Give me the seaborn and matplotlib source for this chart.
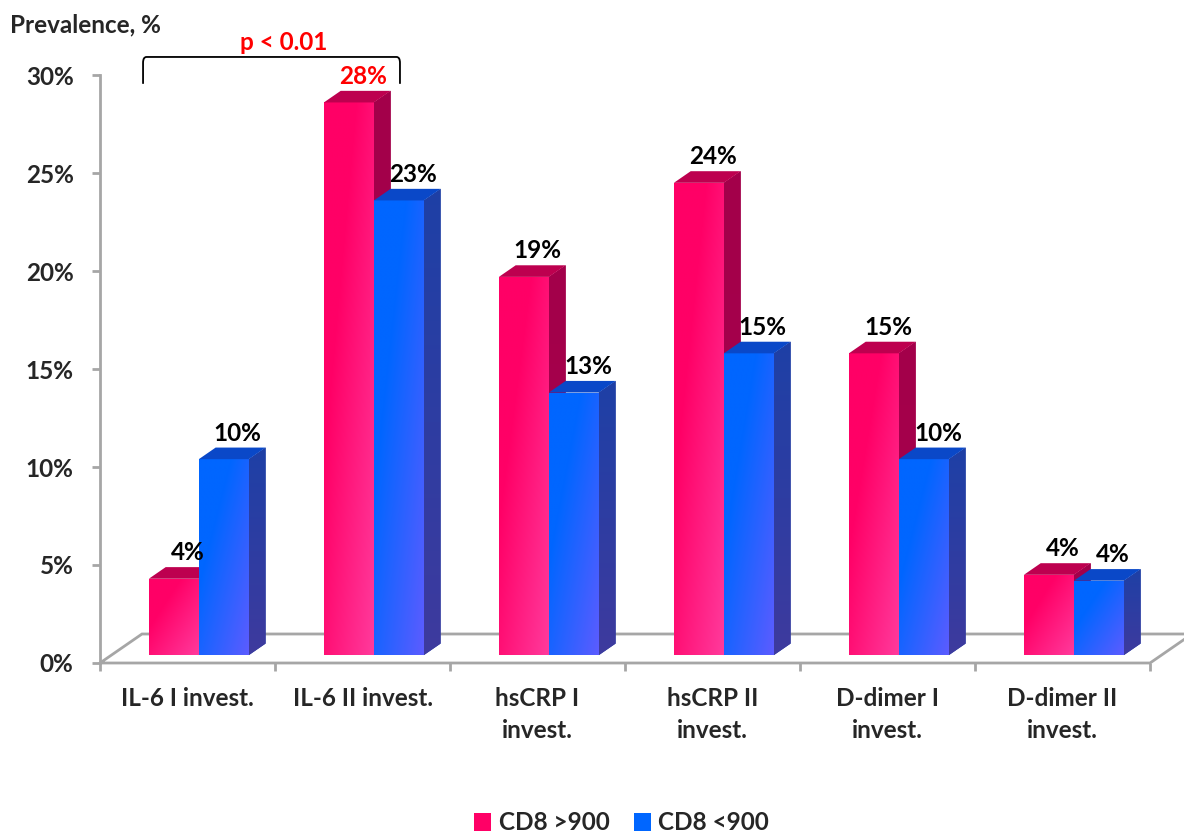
import numpy as np
import pandas as pd
import matplotlib
matplotlib.use("Agg")
import matplotlib.pyplot as plt
import seaborn as sns
from matplotlib.patches import Polygon, Patch
from matplotlib.path import Path
from matplotlib.patches import PathPatch
from matplotlib.colors import to_rgb

# ---- data ----
categories = ["IL-6 I invest.", "IL-6 II invest.", "hsCRP I\ninvest.",
              "hsCRP II\ninvest.", "D-dimer I\ninvest.", "D-dimer II\ninvest."]
groups = ["CD8 >900", "CD8 <900"]
cd8_high = [3.9, 28.2, 19.3, 24.1, 15.4, 4.1]
cd8_low = [10.0, 23.2, 13.4, 15.4, 10.0, 3.8]
y_ticks = [0, 5, 10, 15, 20, 25, 30]
highlight = (1, "CD8 >900")   # label drawn in red
p_text = "p < 0.01"

df = pd.DataFrame({
    "marker": categories * 2,
    "group": [groups[0]] * len(categories) + [groups[1]] * len(categories),
    "value": cd8_high + cd8_low,
})

sns.set_theme(style="white")
plt.rcParams["font.family"] = ["Lato", "DejaVu Sans"]
plt.rcParams["font.weight"] = "bold"

FS = 17.5
front_cols = {"CD8 >900": ("#FF0066", "#FF3A9C"), "CD8 <900": ("#0066FF", "#5C5CFF")}
side_cols = {"CD8 >900": ("#A3004A", "#A8004E"), "CD8 <900": ("#1E40A6", "#3E3A9E")}
top_cols = {"CD8 >900": "#BD004F", "CD8 <900": "#0A48C8"}

fig = plt.figure(figsize=(11.84, 8.34), dpi=100)
ax = fig.add_axes([100 / 1184, 171 / 834, 1084 / 1184, 588 / 834])

sns.barplot(data=df, x="marker", y="value", hue="group", order=categories,
            hue_order=groups, palette=[front_cols[g][0] for g in groups],
            width=0.571, dodge=True, ax=ax, legend=False, saturation=1,
            edgecolor="none", linewidth=0)

XMAX = 5.694
ax.set_xlim(-0.5, XMAX)
ax.set_ylim(0, 30)

# depth of the 3D floor, in data units
DX, DY = 0.24, 1.48
F0, F1 = 0.27, 0.67


def shade(patch, c0, c1, tfun, z):
    if isinstance(patch, Polygon):
        verts = patch.get_xy()
    else:
        verts = patch.get_patch_transform().transform(patch.get_path().vertices)
    x0, x1 = verts[:, 0].min(), verts[:, 0].max()
    y0, y1 = verts[:, 1].min(), verts[:, 1].max()
    n = 80
    U, V = np.meshgrid(np.linspace(0, 1, n), np.linspace(0, 1, n))
    t = np.clip(tfun(U, V), 0, 1)[..., None]
    rgb = np.array(to_rgb(c0)) * (1 - t) + np.array(to_rgb(c1)) * t
    im = ax.imshow(rgb, extent=(x0, x1, y0, y1), origin="lower", aspect="auto",
                   interpolation="bilinear", zorder=z)
    im.set_clip_path(patch)


def front_t(U, V):
    return np.clip((0.55 * U + 0.55 * (1 - V)) - 0.35, 0, 1) / 0.75


for gi, (g, cont) in enumerate(zip(groups, ax.containers)):
    z = 3 + gi
    for ci, bar in enumerate(cont.patches):
        x0 = bar.get_x() + F0 * DX
        w = bar.get_width()
        h = bar.get_height()
        y0 = F0 * DY
        bar.set_x(x0)
        bar.set_y(y0)
        bar.set_zorder(z)
        bar.set_facecolor(front_cols[g][0])
        shade(bar, front_cols[g][0], front_cols[g][1], front_t, z + 0.01)
        top = y0 + h
        ddx, ddy = (F1 - F0) * DX, (F1 - F0) * DY
        side = Polygon([(x0 + w, y0), (x0 + w + ddx, y0 + ddy),
                        (x0 + w + ddx, top + ddy), (x0 + w, top)],
                       closed=True, facecolor=side_cols[g][0], edgecolor="none", zorder=z)
        ax.add_patch(side)
        shade(side, side_cols[g][0], side_cols[g][1], lambda U, V: 1 - V, z + 0.01)
        lid = Polygon([(x0, top), (x0 + w, top), (x0 + w + ddx, top + ddy),
                       (x0 + ddx, top + ddy)],
                      closed=True, facecolor=top_cols[g], edgecolor="none", zorder=z + 0.02)
        ax.add_patch(lid)
        val = cd8_high[ci] if gi == 0 else cd8_low[ci]
        color = "#FF0000" if (ci, g) == highlight else "black"
        ax.annotate(f"{val:.0f}%", (x0 + w / 2 + 0.08, top + ddy),
                    xytext=(0, 5), textcoords="offset points", ha="center",
                    va="baseline", fontsize=FS, fontweight="bold", color=color,
                    zorder=10, annotation_clip=False)

# floor outline
grey = "#A6A6A6"
n = len(categories)
floor = [(-0.5, 0), (n - 0.5, 0), (n - 0.5 + DX, DY), (-0.5 + DX, DY), (-0.5, 0)]
fx, fy = zip(*floor)
ax.plot(fx, fy, color=grey, lw=2, zorder=1, clip_on=False, solid_joinstyle="miter")

# axes styling
for s in ["top", "right", "bottom"]:
    ax.spines[s].set_visible(False)
ax.spines["left"].set_color(grey)
ax.spines["left"].set_linewidth(2)
ax.set_yticks(y_ticks)
ax.set_yticklabels([f"{v}%" for v in y_ticks], fontsize=FS, fontweight="bold")
ax.set_xticks(np.arange(-0.5, n, 1.0))
ax.set_xticklabels([])
ax.set_xticks(np.arange(n), minor=True)
ax.set_xticklabels(categories, minor=True, fontsize=FS, fontweight="bold",
                   linespacing=1.5, va="top")
ax.tick_params(axis="y", which="major", direction="out", length=6, width=2,
               color=grey, pad=13, left=True)
ax.tick_params(axis="x", which="major", direction="out", length=6, width=2,
               color=grey, bottom=True)
ax.tick_params(axis="x", which="minor", length=0, pad=17)
ax.set_xlabel("")
ax.set_ylabel("")
ax.grid(False)

# significance bracket over the first two groups
bx0, bx1 = 0 - 0.254, 1 + 0.214
by0, by1 = 29.55, 30.92
r = 0.02
verts = [(bx0, by0), (bx0, by1 - 0.3), (bx0, by1), (bx0 + r, by1), (bx1 - r, by1),
         (bx1, by1), (bx1, by1 - 0.3), (bx1, by0)]
codes = [Path.MOVETO, Path.LINETO, Path.CURVE3, Path.CURVE3, Path.LINETO,
         Path.CURVE3, Path.CURVE3, Path.LINETO]
ax.add_patch(PathPatch(Path(verts, codes), facecolor="none", edgecolor="black",
                       lw=1.3, clip_on=False, zorder=10))
ax.text((bx0 + bx1) / 2 + 0.07, 31.65, p_text, ha="center", va="center",
        fontsize=FS, fontweight="bold", color="#FF0000", clip_on=False)

fig.text(10 / 1184, 1 - 25 / 834, "Prevalence, %", ha="left", va="center",
         fontsize=FS, fontweight="bold")

handles = [Patch(facecolor=front_cols[g][0], edgecolor="none", label=g) for g in groups]
fig.legend(handles=handles, loc="center", bbox_to_anchor=(0.525, 1 - 823 / 834),
           ncol=2, frameon=False, handlelength=0.7,
           handleheight=0.7, handletextpad=0.3, columnspacing=1.0,
           prop={"weight": "bold", "size": FS})

fig.savefig("out.png", dpi=100)
